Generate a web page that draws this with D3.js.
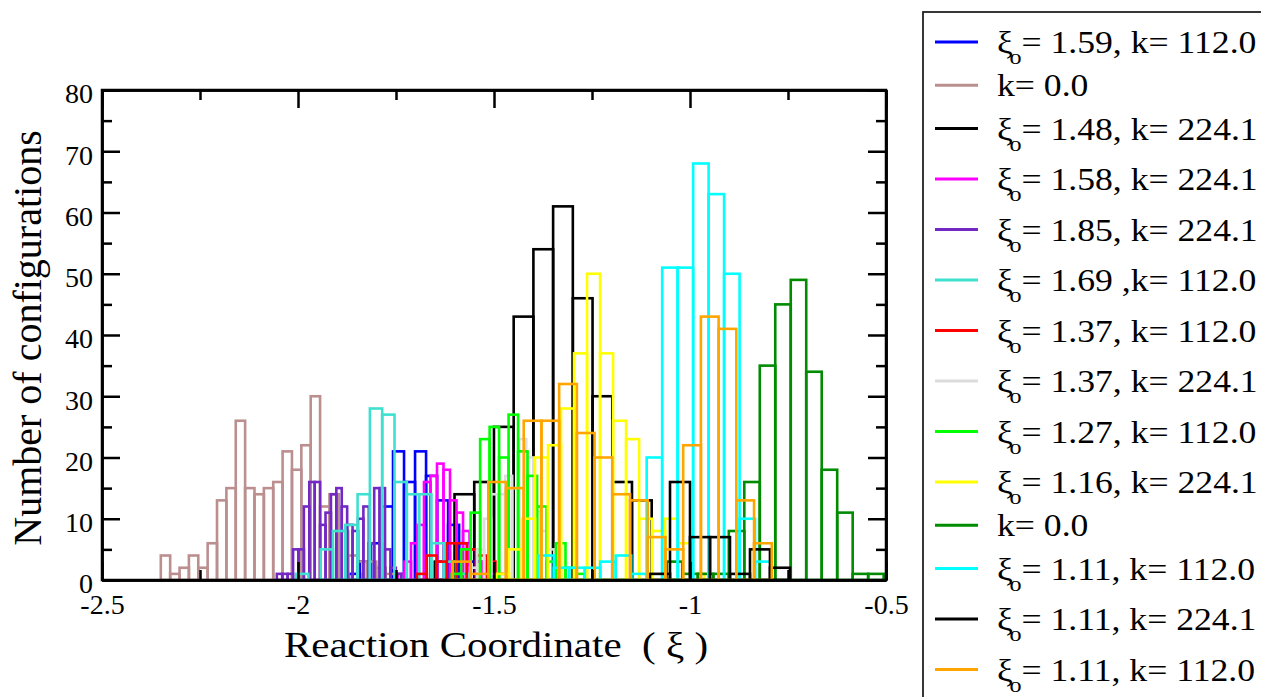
<!DOCTYPE html>
<html lang="en">
<head>
<meta charset="UTF-8">
<style>
body { margin: 0; background: #fff; }
text { font-family: "Liberation Serif", "Times New Roman", serif; fill: #000; }
.hist rect { fill: none; stroke-width: 2.6px; }
.axis path, .axis line { stroke: #000; stroke-width: 2.5px; }
</style>
<title>histograms</title>
</head>
<body>
<svg id="chart" width="1261" height="697"></svg>
<script src="https://cdnjs.cloudflare.com/ajax/libs/d3/7.8.5/d3.min.js"></script>
<script>
// legend labels, in plotting order ("_o" marks the subscript)
const legendLabels = [
  "ξ_o= 1.59, k= 112.0", "k= 0.0", "ξ_o= 1.48, k= 224.1", "ξ_o= 1.58, k= 224.1",
  "ξ_o= 1.85, k= 224.1", "ξ_o= 1.69 ,k= 112.0", "ξ_o= 1.37, k= 112.0", "ξ_o= 1.37, k= 224.1",
  "ξ_o= 1.27, k= 112.0", "ξ_o= 1.16, k= 224.1", "k= 0.0", "ξ_o= 1.11, k= 112.0",
  "ξ_o= 1.11, k= 224.1", "ξ_o= 1.11, k= 112.0"
]
const colors = ["#0000ff", "#bc8f8f", "#000000", "#ff00ff", "#7328c4", "#40e0d0", "#ff0000",
  "#dcdcdc", "#00ff00", "#ffff00", "#008b00", "#00ffff", "#000000", "#ffa500"]

// first bin edge and bin width of every histogram (reaction coordinate units)
const binStarts = [-1.870, -2.350, -1.651, -1.745, -2.054, -2.005, -1.697,
  -1.561, -1.608, -1.495, -1.059, -1.387, -1.102, -1.605]
const binWidths = [0.0281, 0.0239, 0.0503, 0.0166, 0.0138, 0.0314, 0.0255,
  0.0179, 0.0242, 0.0332, 0.0395, 0.0395, 0.051, 0.0452]

// counts per bin
const countsBlue = [1, 3, 6, 12, 21, 16, 21, 17, 13, 9, 6, 3, 1]
const countsBrown = [4, 1, 2, 4, 2, 6, 13, 15, 26, 15, 14, 15, 16, 21, 18, 22, 30, 12, 14, 8, 4, 3, 3, 2, 1]
const countsBlack148 = [3, 14, 16, 25, 43, 54, 61, 46, 30, 16, 13]
const countsMagenta = [1, 3, 6, 9, 16, 17, 19, 18, 13, 11, 8, 5, 3, 2, 1]
const countsPurple = [1, 1, 1, 5, 5, 12, 16, 16, 9, 11, 14, 15, 12, 9, 8, 10, 12, 6, 15, 15, 5, 2, 1]
const countsTurquoise = [1, 0, 5, 8, 9, 14, 28, 27, 16, 14, 14, 6, 3, 1]
const countsRed = [1, 4, 3, 6, 6, 5, 4, 3, 1]
const countsGray = [2, 5, 10, 14, 14, 17, 15, 23, 20, 12, 8, 5, 2]
const countsLime = [1, 5, 11, 23, 25, 20, 27, 21, 17, 12, 3, 6, 2, 1]
const countsYellow = [1, 5, 10, 20, 22, 28, 37, 50, 37, 26, 23, 10, 8, 10, 6, 1]
const countsDarkGreen = [3, 1, 1, 1, 8, 16, 35, 45, 49, 34, 18, 11, 1, 1]
const countsCyan = [4, 2, 2, 2, 3, 4, 1, 20, 51, 51, 68, 63, 50, 10, 3]
const countsBlack111 = [1, 16, 7, 7, 1, 5, 2]
const countsOrange = [3, 1, 16, 15, 26, 26, 32, 24, 20, 14, 13, 7, 5, 22, 43, 41, 13, 6]

const allCounts = [countsBlue, countsBrown, countsBlack148, countsMagenta, countsPurple,
  countsTurquoise, countsRed, countsGray, countsLime, countsYellow, countsDarkGreen,
  countsCyan, countsBlack111, countsOrange]

const xTicks = [-2.5, -2, -1.5, -1, -0.5]
const yTicks = [0, 10, 20, 30, 40, 50, 60, 70, 80]

// layout
const frame = { left: 102, right: 886, top: 90, bottom: 580 }
const serif = '"Liberation Serif", "Times New Roman", serif'
const svg = d3.select("#chart")

const x = d3.scaleLinear().domain([-2.5, -0.5]).range([frame.left, frame.right])
const y = d3.scaleLinear().domain([0, 80]).range([frame.bottom, frame.top])

// histograms
const series = allCounts.map((counts, i) => ({
  color: colors[i],
  bins: counts.map((n, j) => ({
    x0: binStarts[i] + j * binWidths[i],
    x1: binStarts[i] + (j + 1) * binWidths[i],
    n: n
  }))
}))

const hist = svg.append("g").attr("class", "hist")
series.forEach(s => {
  hist.append("g")
    .attr("stroke", s.color)
    .selectAll("rect")
    .data(s.bins)
    .join("rect")
      .attr("x", d => x(d.x0))
      .attr("width", d => x(d.x1) - x(d.x0))
      .attr("y", d => y(d.n))
      .attr("height", d => y(0) - y(d.n))
})

// axes, ticks pointing inward
const major = 18, minor = 10
const fmt = d => String(d)
const minorX = [-2.25, -1.75, -1.25, -0.75]
const minorY = d3.range(5, 80, 10)

function styleLabels(g) {
  g.selectAll("text")
    .style("font-family", serif)
    .style("font-size", "28px")
    .attr("fill", "#000")
}

svg.append("g").attr("class", "axis")
  .attr("transform", `translate(0,${frame.bottom})`)
  .call(d3.axisBottom(x).tickValues(xTicks).tickSizeInner(-major).tickSizeOuter(0).tickPadding(14).tickFormat(fmt))
  .call(styleLabels)
svg.append("g").attr("class", "axis")
  .attr("transform", `translate(0,${frame.bottom})`)
  .call(d3.axisBottom(x).tickValues(minorX).tickSizeInner(-minor).tickSizeOuter(0).tickFormat(""))
svg.append("g").attr("class", "axis")
  .attr("transform", `translate(0,${frame.top})`)
  .call(d3.axisTop(x).tickValues(xTicks).tickSizeInner(-major).tickSizeOuter(0).tickFormat(""))
svg.append("g").attr("class", "axis")
  .attr("transform", `translate(0,${frame.top})`)
  .call(d3.axisTop(x).tickValues(minorX).tickSizeInner(-minor).tickSizeOuter(0).tickFormat(""))

svg.append("g").attr("class", "axis")
  .attr("transform", `translate(${frame.left},0)`)
  .call(d3.axisLeft(y).tickValues(yTicks).tickSizeInner(-major).tickSizeOuter(0).tickPadding(9))
  .call(styleLabels)
  .call(g => g.selectAll("text").attr("dy", "0.32em").attr("y", 4))
svg.append("g").attr("class", "axis")
  .attr("transform", `translate(${frame.left},0)`)
  .call(d3.axisLeft(y).tickValues(minorY).tickSizeInner(-minor).tickSizeOuter(0).tickFormat(""))
svg.append("g").attr("class", "axis")
  .attr("transform", `translate(${frame.right},0)`)
  .call(d3.axisRight(y).tickValues(yTicks).tickSizeInner(-major).tickSizeOuter(0).tickFormat(""))
svg.append("g").attr("class", "axis")
  .attr("transform", `translate(${frame.right},0)`)
  .call(d3.axisRight(y).tickValues(minorY).tickSizeInner(-minor).tickSizeOuter(0).tickFormat(""))

svg.append("rect")
  .attr("x", frame.left).attr("y", frame.top)
  .attr("width", frame.right - frame.left).attr("height", frame.bottom - frame.top)
  .attr("fill", "none").attr("stroke", "#000").attr("stroke-width", 2.5)

// axis titles
svg.append("text")
  .attr("transform", "translate(496,657) scale(1.17,1)")
  .attr("text-anchor", "middle")
  .style("font-size", "35px").style("white-space", "pre")
  .text("Reaction Coordinate  ( ξ )")

svg.append("text")
  .attr("transform", "translate(41,338) rotate(-90)")
  .attr("text-anchor", "middle")
  .style("font-size", "40px")
  .text("Number of configurations")

// legend
svg.append("rect")
  .attr("x", 923).attr("y", 12).attr("width", 400).attr("height", 720)
  .attr("fill", "#fff").attr("stroke", "#222").attr("stroke-width", 1.8)

let ly = 42
const legend = svg.append("g")
legendLabels.forEach((label, i) => {
  if (i > 0) {
    const hPrev = legendLabels[i - 1].includes("_o") ? 50.5 : 36
    const hCur = label.includes("_o") ? 50.5 : 36
    ly += (hPrev + hCur) / 2
  }
  legend.append("line")
    .attr("x1", 935).attr("x2", 978).attr("y1", ly).attr("y2", ly)
    .attr("stroke", colors[i]).attr("stroke-width", 3)
  const t = legend.append("text")
    .attr("transform", `translate(997,${ly + 11}) scale(1.15,1)`)
    .style("font-size", "31px")
  if (label.includes("_o")) {
    const [sym, rest] = label.split("_o")
    t.append("tspan").text(sym)
    t.append("tspan").attr("dx", -3).attr("dy", 11).style("font-size", "21px").text("o")
    t.append("tspan").attr("dy", -11).text(rest)
  } else {
    t.text(label)
  }
})
</script>
</body>
</html>
